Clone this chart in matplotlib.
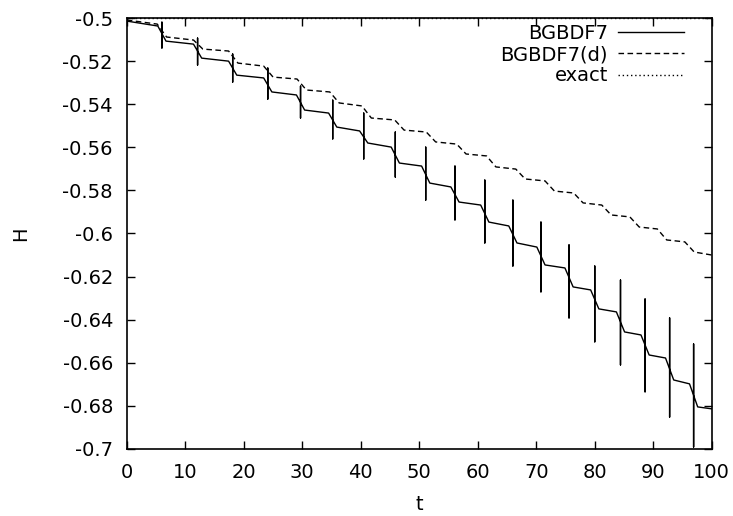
import numpy as np
import matplotlib.pyplot as plt
from matplotlib.ticker import FuncFormatter, MultipleLocator

plt.rcParams['font.family'] = ['DejaVu Sans']
plt.rcParams['axes.unicode_minus'] = False

# BGBDF7: step times, plateau levels (start / end of each plateau) and spike extents
solid_steps = [6.0, 12.1, 18.1, 24.1, 29.7, 35.2, 40.5, 45.9, 51.1, 56.1,
               61.2, 66.0, 70.8, 75.6, 80.0, 84.4, 88.6, 92.8, 96.9]
solid_start = [-0.5014, -0.5107, -0.5186, -0.5265, -0.5343, -0.5427, -0.5506,
               -0.5580, -0.5673, -0.5766, -0.5854, -0.5947, -0.6044, -0.6146,
               -0.6248, -0.6350, -0.6457, -0.6564, -0.6680, -0.6805]
solid_end = [-0.5037, -0.5121, -0.5200, -0.5278, -0.5357, -0.5441, -0.5524,
             -0.5599, -0.5687, -0.5784, -0.5868, -0.5965, -0.6063, -0.6160,
             -0.6262, -0.6364, -0.6471, -0.6578, -0.6698, -0.6814]
spike_top = [-0.5019, -0.5093, -0.5167, -0.5232, -0.5316, -0.5381, -0.5441,
             -0.5529, -0.5599, -0.5687, -0.5752, -0.5845, -0.5947, -0.6053,
             -0.6151, -0.6216, -0.6304, -0.6392, -0.6513]
spike_bot = [-0.5139, -0.5218, -0.5297, -0.5376, -0.5464, -0.5561, -0.5654,
             -0.5738, -0.5845, -0.5937, -0.6044, -0.6151, -0.6271, -0.6392,
             -0.6503, -0.6610, -0.6735, -0.6852, -0.6991]

# BGBDF7(d)
dash_steps = [6.0, 12.2, 18.2, 24.2, 29.9, 35.5, 41.0, 46.6, 52.0, 57.2,
              62.3, 67.3, 72.3, 77.2, 82.0, 86.8, 91.5, 96.2]
dash_start = [-0.5009, -0.5088, -0.5144, -0.5209, -0.5274, -0.5334, -0.5394,
              -0.5464, -0.5520, -0.5575, -0.5631, -0.5691, -0.5747, -0.5803,
              -0.5858, -0.5914, -0.5970, -0.6030, -0.6086]
dash_end = [-0.5028, -0.5102, -0.5153, -0.5223, -0.5283, -0.5343, -0.5408,
            -0.5473, -0.5529, -0.5585, -0.5640, -0.5701, -0.5756, -0.5812,
            -0.5868, -0.5923, -0.5979, -0.6039, -0.6100]

exact_t = [0.0, 100.0]
exact_h = [-0.5, -0.5]

t_max = 100.0

# build polylines: ramp into the step, vertical spike, ramp out
st, sh = [0.0], [solid_start[0]]
w = 0.7
for k, ts in enumerate(solid_steps):
    mid = 0.5 * (solid_end[k] + solid_start[k + 1])
    st += [ts - w, ts, ts, ts, ts, ts + w]
    sh += [solid_end[k], mid, spike_top[k], spike_bot[k], mid, solid_start[k + 1]]
st.append(t_max)
sh.append(solid_end[-1])

dt, dh = [0.0], [dash_start[0]]
wd = 0.8
for k, ts in enumerate(dash_steps):
    dt += [ts - wd, ts + wd]
    dh += [dash_end[k], dash_start[k + 1]]
dt.append(t_max)
dh.append(dash_end[-1])

fig = plt.figure(figsize=(7.33, 5.16), dpi=100)
ax = fig.add_axes([0.173, 0.130, 0.798, 0.835])

ax.plot(st, sh, color='black', lw=1.0, label='BGBDF7')
ax.plot(dt, dh, color='black', lw=1.0, dashes=(4, 2.5), label='BGBDF7(d)')
ax.plot(exact_t, exact_h, color='black', lw=1.0, dashes=(1, 2), clip_on=False,
        label='exact')

ax.set_xlim(0, 100)
ax.set_ylim(-0.7, -0.5)
ax.xaxis.set_major_locator(MultipleLocator(10))
ax.yaxis.set_major_locator(MultipleLocator(0.02))
ax.yaxis.set_major_formatter(FuncFormatter(lambda v, p: '%g' % round(v, 4)))
ax.tick_params(direction='in', top=True, right=True, length=6, width=1,
               labelsize=14, pad=10)
for s in ax.spines.values():
    s.set_linewidth(1.2)

ax.set_xlabel('t', fontsize=14)
ax.set_ylabel('H', fontsize=14)
ax.xaxis.set_label_coords(0.5, -0.108)
ax.yaxis.set_label_coords(-0.165, 0.5)

ax.legend(loc='upper right', frameon=False, markerfirst=False, fontsize=14,
          handlelength=3.4, handletextpad=0.5, labelspacing=0.12,
          borderaxespad=0.2, bbox_to_anchor=(0.972, 1.014))

fig.savefig('out.png', dpi=100)
